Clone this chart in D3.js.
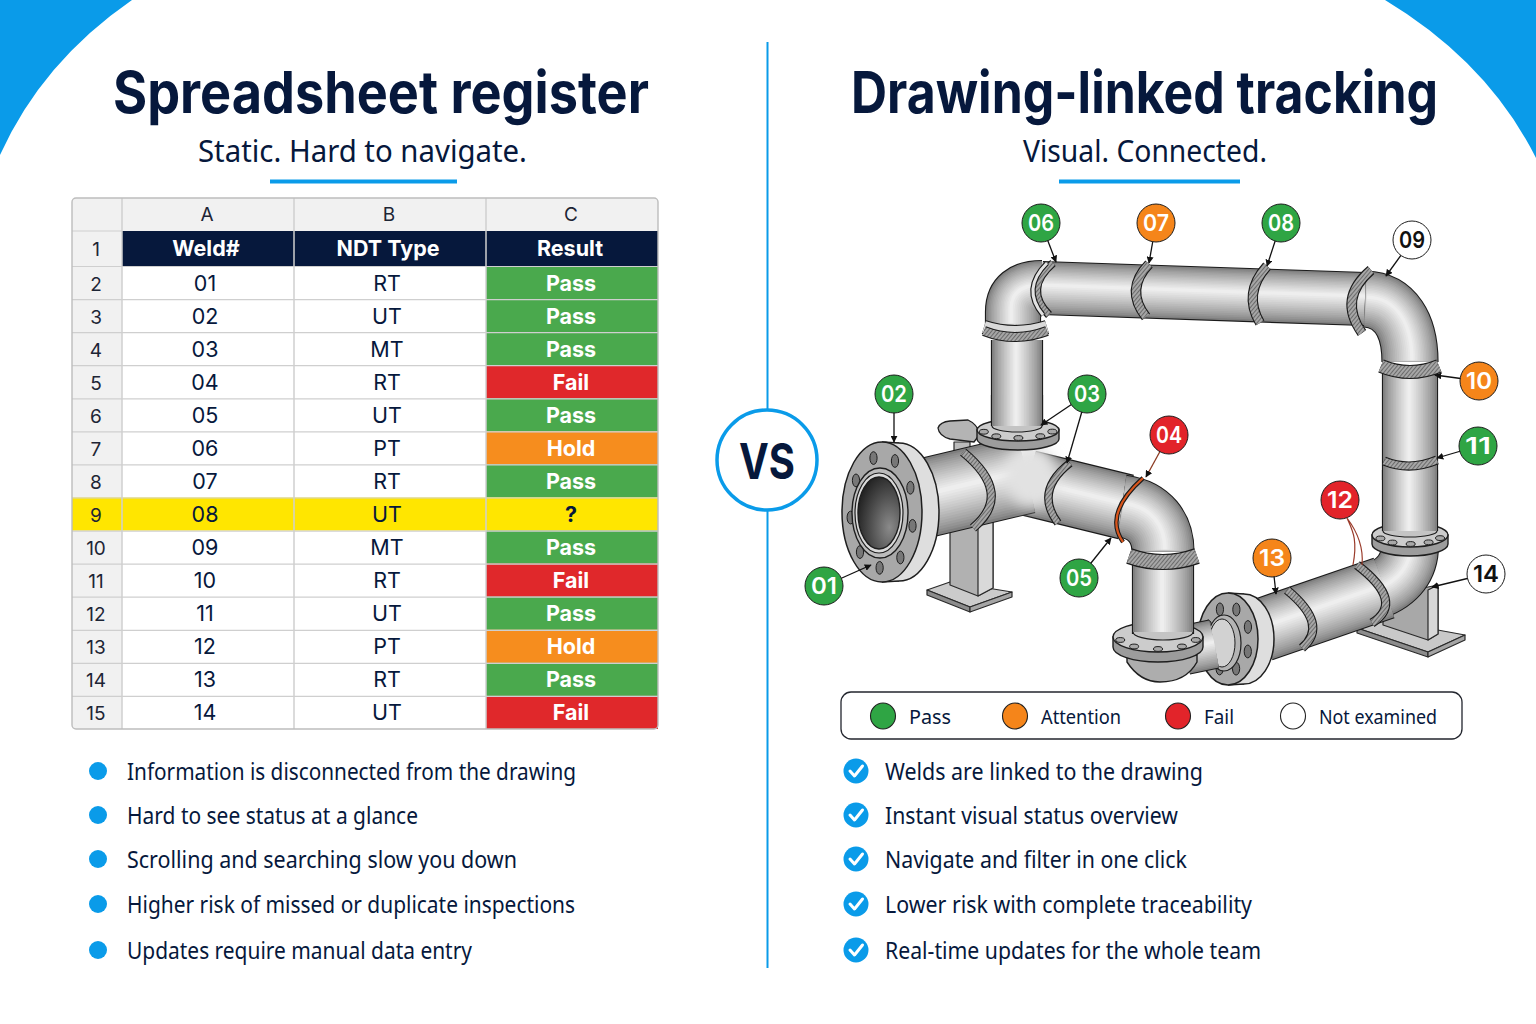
<!DOCTYPE html>
<html>
<head>
<meta charset="utf-8">
<script src="https://cdn.jsdelivr.net/npm/d3@7"></script>
<style>
  html, body { margin: 0; background: #fff; }
  svg { display: block; }
  text { font-family: Inter, Roboto, sans-serif; }
  .hum { font-family: "Noto Sans", Roboto, sans-serif; }
</style>
</head>
<body>
<div id="container"></div>
<script>
/* DATA */
const colLetters = ["A", "B", "C"];
const colHeaders = ["Weld#", "NDT Type", "Result"];
const weldIds = ["01","02","03","04","05","06","07","08","09","10","11","12","13","14"];
const ndtTypes = ["RT","UT","MT","RT","UT","PT","RT","UT","MT","RT","UT","PT","RT","UT"];
const results = ["Pass","Pass","Pass","Fail","Pass","Hold","Pass","?","Pass","Fail","Pass","Hold","Pass","Fail"];
const drawingStatus = ["Pass","Pass","Pass","Fail","Pass","Pass","Attention","Pass","Not examined","Attention","Pass","Fail","Attention","Not examined"];
const legendLabels = ["Pass", "Attention", "Fail", "Not examined"];
const leftBullets = [
  "Information is disconnected from the drawing",
  "Hard to see status at a glance",
  "Scrolling and searching slow you down",
  "Higher risk of missed or duplicate inspections",
  "Updates require manual data entry"
];
const rightBullets = [
  "Welds are linked to the drawing",
  "Instant visual status overview",
  "Navigate and filter in one click",
  "Lower risk with complete traceability",
  "Real-time updates for the whole team"
];

/* CONSTANTS */
const width = 1536, height = 1024;
const blue = "#0a9be9", navy = "#06183c";
const cellColor = d3.scaleOrdinal()
  .domain(["Pass", "Fail", "Hold", "?"])
  .range(["#4aa94d", "#e0282b", "#f68d1e", "#ffe600"]);
const dotColor = d3.scaleOrdinal()
  .domain(legendLabels)
  .range(["#2fa544", "#f5851a", "#e2242a", "#ffffff"]);

const svg = d3.select("#container").append("svg")
  .attr("width", width).attr("height", height);
const defs = svg.append("defs");

// hatch used for the weld beads
const hatch = defs.append("pattern").attr("id", "hatch")
  .attr("width", 3).attr("height", 3)
  .attr("patternUnits", "userSpaceOnUse")
  .attr("patternTransform", "rotate(40)");
hatch.append("rect").attr("width", 3).attr("height", 3).attr("fill", "#a6a6a6");
hatch.append("rect").attr("width", 1).attr("height", 3).attr("fill", "#6b6b6b");

const shadow = defs.append("filter").attr("id", "soft")
  .attr("x", "-40%").attr("y", "-40%").attr("width", "180%").attr("height", "180%");
shadow.append("feGaussianBlur").attr("stdDeviation", 7);

/* BACKGROUND */
svg.append("path").attr("fill", blue).attr("d", "M0,0 L132,0 Q42,62 0,155 Z");
svg.append("path").attr("fill", blue).attr("d", "M1536,0 L1385,0 Q1488,62 1536,158 Z");
svg.append("line").attr("x1", 767.5).attr("x2", 767.5).attr("y1", 42).attr("y2", 968)
  .attr("stroke", blue).attr("stroke-width", 2);
svg.append("circle").attr("cx", 767).attr("cy", 460).attr("r", 50)
  .attr("fill", "#fff").attr("stroke", blue).attr("stroke-width", 3.5);
svg.append("text").attr("x", 767).attr("y", 479).attr("text-anchor", "middle")
  .attr("font-size", 50).attr("font-weight", 700).attr("fill", navy)
  .attr("textLength", 56).attr("lengthAdjust", "spacingAndGlyphs").text("VS");

// titles
function fitted(x, y, size, weight, len, str, cls) {
  return svg.append("text").attr("class", cls || null).attr("x", x).attr("y", y)
    .attr("font-size", size).attr("font-weight", weight).attr("fill", navy)
    .attr("textLength", len).attr("lengthAdjust", "spacingAndGlyphs").text(str);
}
fitted(113, 113, 58, 700, 536, "Spreadsheet register");
fitted(851, 113, 58, 700, 587, "Drawing-linked tracking");
fitted(198, 162, 30, 400, 329, "Static. Hard to navigate.", "hum");
fitted(1023, 162, 30, 400, 244, "Visual. Connected.", "hum");
svg.append("rect").attr("x", 270).attr("y", 179.5).attr("width", 187).attr("height", 4).attr("fill", blue);
svg.append("rect").attr("x", 1059).attr("y", 179.5).attr("width", 181).attr("height", 4).attr("fill", blue);

/* SPREADSHEET */
const table = svg.append("g");
const colEdges = [122, 294, 486, 658];
const colLeft = d3.scaleOrdinal().domain(d3.range(3)).range(colEdges.slice(0, 3));
const colWidth = i => colEdges[i + 1] - colEdges[i];
const rowY = d3.scaleBand().domain(weldIds).range([266, 729]);
const grid = "#cfcfcf", headBg = "#f1f1f1";

table.append("rect").attr("x", 72).attr("y", 198).attr("width", 586).attr("height", 531)
  .attr("rx", 4).attr("fill", headBg);
table.append("rect").attr("x", 122).attr("y", 266).attr("width", 536).attr("height", 463).attr("fill", "#fff");
table.append("rect").attr("x", 122).attr("y", 231).attr("width", 536).attr("height", 35).attr("fill", navy);

// result column + highlighted row
table.selectAll(".result").data(results).join("rect")
  .attr("class", "result")
  .attr("x", colLeft(2)).attr("width", colWidth(2))
  .attr("y", (d, i) => rowY(weldIds[i])).attr("height", rowY.bandwidth())
  .attr("fill", d => cellColor(d));
table.append("rect").attr("x", 72).attr("width", 414)
  .attr("y", rowY(weldIds[results.indexOf("?")])).attr("height", rowY.bandwidth())
  .attr("fill", cellColor("?"));

// grid lines
table.selectAll(".hline").data(weldIds).join("line")
  .attr("x1", 72).attr("x2", 658)
  .attr("y1", d => rowY(d) + .5).attr("y2", d => rowY(d) + .5)
  .attr("stroke", grid).attr("stroke-width", 1.2);
table.append("line").attr("x1", 72).attr("x2", 122).attr("y1", 231).attr("y2", 231).attr("stroke", grid);
table.selectAll(".vline").data(colEdges.slice(0, 3)).join("line")
  .attr("x1", d => d).attr("x2", d => d).attr("y1", 198).attr("y2", 729)
  .attr("stroke", grid).attr("stroke-width", 1.5);
table.append("rect").attr("x", 72).attr("y", 198).attr("width", 586).attr("height", 531)
  .attr("rx", 4).attr("fill", "none").attr("stroke", "#bdbdbd").attr("stroke-width", 1.4);

// header text
table.selectAll(".letter").data(colLetters).join("text")
  .attr("x", (d, i) => colLeft(i) + colWidth(i) / 2 - 1).attr("y", 221)
  .attr("text-anchor", "middle").attr("font-size", 19).attr("fill", "#1d2535").text(d => d);
table.selectAll(".head").data(colHeaders).join("text")
  .attr("x", (d, i) => colLeft(i) + colWidth(i) / 2 - 2).attr("y", 256)
  .attr("text-anchor", "middle").attr("font-size", 21.5).attr("font-weight", 700)
  .attr("fill", "#fff").text(d => d);
table.append("text").attr("x", 96).attr("y", 256).attr("text-anchor", "middle")
  .attr("font-size", 19).attr("fill", "#1d2535").text("1");

// body text
const cy = id => rowY(id) + rowY.bandwidth() / 2 + 8;
table.selectAll(".rownum").data(weldIds).join("text")
  .attr("x", 96).attr("y", cy).attr("text-anchor", "middle")
  .attr("font-size", 19).attr("fill", "#1d2535").text((d, i) => i + 2);
table.selectAll(".weld").data(weldIds).join("text")
  .attr("x", 205).attr("y", cy).attr("text-anchor", "middle")
  .attr("font-size", 21.5).attr("fill", navy).text(d => d);
table.selectAll(".ndt").data(ndtTypes).join("text")
  .attr("x", 387).attr("y", (d, i) => cy(weldIds[i])).attr("text-anchor", "middle")
  .attr("font-size", 21.5).attr("fill", navy).text(d => d);
table.selectAll(".res").data(results).join("text")
  .attr("x", 571).attr("y", (d, i) => cy(weldIds[i])).attr("text-anchor", "middle")
  .attr("font-size", 21.5).attr("font-weight", 700)
  .attr("fill", d => d === "?" ? navy : "#fff").text(d => d);

/* PIPE DRAWING */
const pipes = svg.append("g");
const shade = d3.interpolateRgb("#7f7f7f", "#f4f4f4");
const steps = 16;

// nested strokes give the round look; light comes from slightly above
function tube(d, r, lx, ly) {
  const g = pipes.append("g").attr("fill", "none");
  g.append("path").attr("d", d).attr("stroke", "#1b1b1b").attr("stroke-width", 2 * r + 2.2);
  d3.range(steps).forEach(i => {
    const t = i / steps;
    g.append("path").attr("d", d)
      .attr("stroke", shade(Math.pow(t, .8)))
      .attr("stroke-width", 2 * r * (1 - t))
      .attr("transform", `translate(${(lx || 0) * t},${(ly || 0) * t})`);
  });
}

// weld bead: quadratic through a bulge point
function weld(p0, b, p1, w, color) {
  const cx = 2 * b[0] - (p0[0] + p1[0]) / 2, cy2 = 2 * b[1] - (p0[1] + p1[1]) / 2;
  const d = `M${p0} Q${cx},${cy2} ${p1}`;
  pipes.append("path").attr("d", d).attr("fill", "none").attr("stroke", "#1b1b1b").attr("stroke-width", w + 2.2);
  pipes.append("path").attr("d", d).attr("fill", "none").attr("stroke", color || "url(#hatch)").attr("stroke-width", w);
}

function poly(pts, fill) {
  pipes.append("polygon").attr("points", pts.join(" "))
    .attr("fill", fill).attr("stroke", "#2a2a2a").attr("stroke-width", 1.2).attr("stroke-linejoin", "round");
}

function ell(cx, cy_, rx, ry, fill, sw) {
  return pipes.append("ellipse").attr("cx", cx).attr("cy", cy_).attr("rx", rx).attr("ry", ry)
    .attr("fill", fill).attr("stroke", "#1e1e1e").attr("stroke-width", sw === undefined ? 1.4 : sw);
}

// flat flange seen from above, bolts along the front edge
function hFlange(cx, cy_, rx, ry, t, bolts) {
  pipes.append("path")
    .attr("d", `M${cx - rx},${cy_} L${cx - rx},${cy_ + t} A${rx},${ry} 0 0 0 ${cx + rx},${cy_ + t} L${cx + rx},${cy_} Z`)
    .attr("fill", "#9c9c9c").attr("stroke", "#1e1e1e").attr("stroke-width", 1.4);
  ell(cx, cy_, rx, ry, "#cccccc");
  bolts.forEach(a => {
    const x = cx + (rx - 6) * Math.cos(a), y = cy_ + (ry - 3) * Math.sin(a);
    ell(x, y, 4.5, 2.4, "#a8a8a8", 1);
  });
}

// flange face looking at the viewer, with a wide pale rim behind it
function vFlange(cx, cy_, rx, ry, depth, n, start) {
  pipes.append("ellipse").attr("cx", cx + depth).attr("cy", cy_).attr("rx", rx).attr("ry", ry - 1)
    .attr("fill", "#dedede").attr("stroke", "#1e1e1e").attr("stroke-width", 1.5);
  pipes.append("rect").attr("x", cx).attr("y", cy_ - ry + .8).attr("width", depth).attr("height", 2 * ry - 1.6)
    .attr("fill", "#dedede");
  pipes.append("line").attr("x1", cx).attr("x2", cx + depth).attr("y1", cy_ - ry).attr("y2", cy_ - ry + 1)
    .attr("stroke", "#1e1e1e").attr("stroke-width", 1.5);
  pipes.append("line").attr("x1", cx).attr("x2", cx + depth).attr("y1", cy_ + ry).attr("y2", cy_ + ry - 1)
    .attr("stroke", "#1e1e1e").attr("stroke-width", 1.5);
  ell(cx, cy_, rx, ry, "#a8a8a8", 1.5);
  d3.range(n).forEach(i => {
    const a = start + i * 2 * Math.PI / n;
    ell(cx + (rx - 8.5) * Math.cos(a), cy_ + (ry - 14) * Math.sin(a), 3.6, 6.4, "#777", 1);
  });
}

// far loop: left riser, top run, right riser
tube("M1017,340 L1017,432", 25, -1, 0);
tube("M1013,326 L1013,312 Q1013,288 1042,288", 27, -2, -3);
weld([984, 327], [1015, 332], [1047, 327], 12, "#d9d9d9");
weld([984, 331], [1015, 337], [1047, 331], 8);
tube("M1042,288 L1365,299", 26, 0, -3);
weld([1053, 263], [1037, 289], [1049, 315], 6);
weld([1047, 263], [1033, 289], [1043, 315], 3, "#e2e2e2");
weld([1149, 264], [1136, 290], [1146, 317], 8);
weld([1267, 266], [1253, 294], [1260, 323], 8);
tube("M1365,299 C1395,300 1410,325 1410,362", 27.5, 2, -2);
tube("M1410,372 L1410,480", 27, -1, 0);
weld([1381, 366], [1410, 372], [1439, 366], 12);
weld([1371, 270], [1352, 300], [1362, 333], 8);

// right support + lower run
poly([[1357, 628], [1383, 620], [1465, 635], [1428, 652]], "#c9c9c9");
poly([[1357, 628], [1428, 652], [1428, 657], [1357, 633]], "#8c8c8c");
poly([[1428, 652], [1465, 635], [1465, 640], [1428, 657]], "#a5a5a5");
poly([[1383, 595], [1428, 587], [1438, 585], [1438, 634], [1428, 640], [1383, 625]], "#a8a8a8");
poly([[1428, 590], [1438, 585], [1438, 634], [1428, 640]], "#d8d8d8");
tube("M1410,545 Q1410,578 1375,591", 28, 1, -2);
tube("M1262,630 L1384,588", 31, -.5, -3);
weld([1287, 590], [1312, 622], [1302, 648], 7);
weld([1357, 565], [1385, 598], [1372, 623], 7);
hFlange(1410, 535, 38, 12, 9, d3.range(5).map(i => .35 + i * .6));
tube("M1410,470 L1410,531", 27, -1, 0);
pipes.append("path").attr("d", "M1383,531 A27,6 0 0 0 1437,531").attr("fill", "#c4c4c4").attr("stroke", "#1e1e1e").attr("stroke-width", 1.2);
weld([1384, 461], [1410, 466], [1437, 460], 7);

// lower flange pair
vFlange(1228, 639, 30, 46, 16, 8, .4);
ell(1224, 643, 17, 28, "#b4b4b4", 1.2);
ell(1222, 643, 13, 24, "#d2d2d2", 1);
tube("M1185,650 L1214,644", 24, 0, -2);

// tee, left half of the drawing
poly([[927, 590], [950, 582], [1012, 592], [970, 607]], "#cbcbcb");
poly([[927, 590], [970, 607], [970, 612], [927, 595]], "#8c8c8c");
poly([[970, 607], [1012, 592], [1012, 597], [970, 612]], "#a5a5a5");
poly([[950, 530], [978, 522], [993, 520], [993, 588], [978, 596], [950, 585]], "#b1b1b1");
poly([[978, 522], [993, 520], [993, 588], [978, 596]], "#d9d9d9");
poly([[954, 442], [970, 442], [970, 460], [954, 462]], "#bbbbbb");

tube("M1028,483 L1126,507", 32, .5, -3);
tube("M925,498 L1026,474", 39, 0, -4);
pipes.append("ellipse").attr("cx", 1031).attr("cy", 476).attr("rx", 26).attr("ry", 32)
  .attr("fill", "#e2e2e2").attr("filter", "url(#soft)");
weld([963, 452], [991, 492], [973, 528], 7);
weld([1070, 463], [1049, 492], [1058, 523], 6);
tube("M1122,506 C1150,510 1163,528 1163,552", 30.5, 2, -3);
weld([1143, 478], [1118, 512], [1123, 542], 2.2, "#d8551c");

// lug + riser flange sit on top of the tee
pipes.append("path")
  .attr("d", "M938,428 Q940,422 950,421 L968,420 Q977,424 980,434 L974,442 L950,439 Q939,436 938,428 Z")
  .attr("fill", "#b4b4b4").attr("stroke", "#1e1e1e").attr("stroke-width", 1.3);
hFlange(1018, 430, 41, 11, 9, d3.range(5).map(i => .2 + i * .68));
tube("M1017,395 L1017,426", 25, -1, 0);
pipes.append("path").attr("d", "M992,426 A25,6 0 0 0 1042,426").attr("fill", "#c4c4c4").attr("stroke", "#1e1e1e").attr("stroke-width", 1.2);

// lower-left riser
pipes.append("path")
  .attr("d", "M1127,655 L1127,662 Q1140,682 1160,682 Q1186,682 1197,662 L1197,655 Z")
  .attr("fill", "#adadad").attr("stroke", "#1e1e1e").attr("stroke-width", 1.4);
hFlange(1158, 637, 45, 15, 10, d3.range(5).map(i => .25 + i * .66));
tube("M1163,564 L1163,634", 30, -1, 0);
pipes.append("path").attr("d", "M1133,632 A30,8 0 0 0 1193,632").attr("fill", "#c4c4c4").attr("stroke", "#1e1e1e").attr("stroke-width", 1.2);
weld([1129, 556], [1163, 562], [1197, 556], 14);

// inlet flange
vFlange(882, 512, 40, 70, 17, 9, .25);
ell(880, 513, 28, 45, "#bcbcbc", 1.4);
ell(879, 513, 24, 40, "#dadada", 1.2);
const bore = defs.append("radialGradient").attr("id", "bore").attr("cx", .75).attr("cy", .7).attr("r", .8);
bore.append("stop").attr("offset", 0).attr("stop-color", "#8a8a8a");
bore.append("stop").attr("offset", .6).attr("stop-color", "#4b4b4b");
bore.append("stop").attr("offset", 1).attr("stop-color", "#232323");
ell(879, 513, 21, 36, "url(#bore)", 1.4);

/* CALLOUTS */
const callouts = svg.append("g");
const calloutAt = {
  "01": { c: [824, 586], to: [[871, 565]] },
  "02": { c: [894, 394], to: [[894, 442]] },
  "03": { c: [1087, 394], to: [[1041, 425], [1067, 463]] },
  "04": { c: [1169, 435], to: [[1146, 477]], line: "#8c3b22" },
  "05": { c: [1079, 578], to: [[1111, 538]] },
  "06": { c: [1041, 223], to: [[1056, 262]] },
  "07": { c: [1156, 223], to: [[1149, 263]] },
  "08": { c: [1281, 223], to: [[1267, 266]] },
  "09": { c: [1412, 240], to: [[1386, 276]] },
  "10": { c: [1479, 381], to: [[1435, 375]] },
  "11": { c: [1478, 446], to: [[1437, 458]] },
  "13": { c: [1272, 558], to: [[1276, 594]] },
  "14": { c: [1486, 574], to: [[1432, 587]] }
};
// arrow tips
const tip = defs.append("marker").attr("id", "tip").attr("viewBox", "0 0 10 10")
  .attr("refX", 9).attr("refY", 5).attr("markerWidth", 7).attr("markerHeight", 7)
  .attr("markerUnits", "userSpaceOnUse").attr("orient", "auto");
tip.append("path").attr("d", "M0,0 L10,5 L0,10 Z").attr("fill", "#111");

weldIds.filter(id => calloutAt[id]).forEach(id => {
  const o = calloutAt[id];
  o.to.forEach(p => {
    callouts.append("line").attr("x1", o.c[0]).attr("y1", o.c[1]).attr("x2", p[0]).attr("y2", p[1])
      .attr("stroke", o.line || "#111").attr("stroke-width", 1.3).attr("marker-end", "url(#tip)");
  });
});
// weld 12 has a loose double leader
callouts.append("path").attr("fill", "none").attr("stroke", "#9a3b2a").attr("stroke-width", 1.2)
  .attr("d", "M1347,518 C1352,530 1358,538 1353,565 M1347,518 C1356,530 1364,545 1362,565");
calloutAt["12"] = { c: [1340, 500] };

const dots = callouts.selectAll(".dot").data(weldIds).join("g").attr("class", "dot")
  .attr("transform", d => `translate(${calloutAt[d].c})`);
dots.append("circle").attr("r", 19)
  .attr("fill", (d, i) => dotColor(drawingStatus[i]))
  .attr("stroke", "#1d1d1d").attr("stroke-width", 1);
dots.append("text").attr("y", 8.4).attr("text-anchor", "middle")
  .attr("font-size", 23.5).attr("font-weight", 600)
  .attr("fill", (d, i) => drawingStatus[i] === "Not examined" ? "#111" : "#fff")
  .attr("textLength", 26).attr("lengthAdjust", "spacingAndGlyphs")
  .text(d => d);

/* LEGEND */
svg.append("rect").attr("x", 841).attr("y", 692).attr("width", 621).attr("height", 47)
  .attr("rx", 10).attr("fill", "#fff").attr("stroke", "#23262e").attr("stroke-width", 1.3);
const legendX = d3.scaleOrdinal().domain(legendLabels).range([883, 1015, 1178, 1293]);
const legendW = d3.scaleOrdinal().domain(legendLabels).range([42, 80, 30, 118]);
const legend = svg.selectAll(".legend").data(legendLabels).join("g").attr("class", "legend")
  .attr("transform", d => `translate(${legendX(d)},716)`);
legend.append("ellipse").attr("rx", 12.5).attr("ry", 13)
  .attr("fill", d => dotColor(d)).attr("stroke", "#222").attr("stroke-width", 1.1);
legend.append("text").attr("class", "hum").attr("x", 26).attr("y", 8).attr("font-size", 20.5).attr("fill", navy)
  .attr("textLength", d => legendW(d)).attr("lengthAdjust", "spacingAndGlyphs").text(d => d);

/* BULLETS */
const bulletY = d3.scaleOrdinal().domain(d3.range(5)).range([771, 815, 859, 904, 950]);
const leftW = [449, 291, 390, 448, 345];
const rightW = [318, 293, 302, 367, 376];

const lb = svg.selectAll(".lb").data(leftBullets).join("g").attr("class", "lb")
  .attr("transform", (d, i) => `translate(98,${bulletY(i)})`);
lb.append("circle").attr("r", 9).attr("fill", blue);
lb.append("text").attr("class", "hum").attr("x", 29).attr("y", 9).attr("font-size", 24).attr("fill", navy)
  .attr("textLength", (d, i) => leftW[i]).attr("lengthAdjust", "spacingAndGlyphs").text(d => d);

const rb = svg.selectAll(".rb").data(rightBullets).join("g").attr("class", "rb")
  .attr("transform", (d, i) => `translate(856,${bulletY(i)})`);
rb.append("circle").attr("r", 12.5).attr("fill", blue);
rb.append("path").attr("d", "M-6,0 L-1.5,5 L6.5,-5").attr("fill", "none")
  .attr("stroke", "#fff").attr("stroke-width", 3).attr("stroke-linecap", "round").attr("stroke-linejoin", "round");
rb.append("text").attr("class", "hum").attr("x", 29).attr("y", 9).attr("font-size", 24).attr("fill", navy)
  .attr("textLength", (d, i) => rightW[i]).attr("lengthAdjust", "spacingAndGlyphs").text(d => d);
</script>
</body>
</html>
